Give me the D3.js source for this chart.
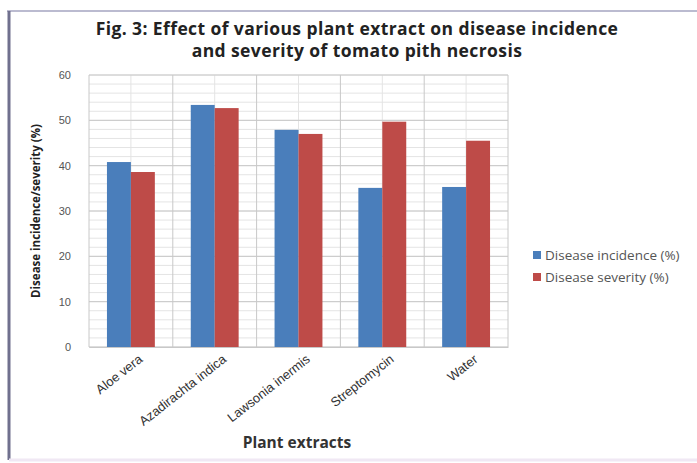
<!DOCTYPE html>
<html>
<head>
<meta charset="utf-8">
<script src="https://cdn.jsdelivr.net/npm/d3@7"></script>
<style>
  body { margin: 0; background: #fff; }
  svg { display: block; font-family: "Open Sans", "DejaVu Sans", sans-serif; }
</style>
</head>
<body>
<svg id="chart" width="697" height="463"></svg>
<script>
// chart data
const extracts = ["Aloe vera", "Azadirachta indica", "Lawsonia inermis", "Streptomycin", "Water"];
const incidence = [40.8, 53.4, 47.9, 35.1, 35.3];
const severity = [38.6, 52.7, 47.0, 49.7, 45.5];
const seriesNames = ["Disease incidence (%)", "Disease severity (%)"];
const yTicks = [0, 10, 20, 30, 40, 50, 60];
const titleLines = ["Fig. 3: Effect of various plant extract on disease incidence",
                    "and severity of tomato pith necrosis"];

let margin = {top: 75, left: 89, right: 189, bottom: 116},
    width = 697 - margin.left - margin.right,
    height = 463 - margin.top - margin.bottom;

let svg = d3.select("#chart");

// outer frame of the figure
svg.append("rect").attr("x", 0).attr("y", 0).attr("width", 697).attr("height", 463).attr("fill", "#fff");
svg.append("line").attr("x1", 7).attr("x2", 697).attr("y1", 11).attr("y2", 11)
    .attr("stroke", "#a4a4c0").attr("stroke-width", 1.5);
svg.append("line").attr("x1", 9).attr("x2", 9).attr("y1", 11).attr("y2", 460)
    .attr("stroke", "#70708e").attr("stroke-width", 3);
svg.append("line").attr("x1", 9).attr("x2", 697).attr("y1", 460).attr("y2", 460)
    .attr("stroke", "#f0e8f4").attr("stroke-width", 3);

let g = svg.append("g").attr("transform", "translate(" + margin.left + "," + margin.top + ")");

let yScale = d3.scaleLinear().domain([0, 60]).range([height, 0]);
let xScale = d3.scaleBand().domain(extracts).range([0, width]);
let xSub = d3.scaleBand().domain(seriesNames).range([0, xScale.bandwidth()]).paddingInner(0).paddingOuter(0.75);

// minor grid
g.append("g").selectAll("line")
    .data(d3.range(0, 61, 2))
    .join("line")
    .attr("x1", 0).attr("x2", width)
    .attr("y1", d => yScale(d)).attr("y2", d => yScale(d))
    .attr("stroke", "#e4e4e4").attr("stroke-width", 1);
g.append("g").selectAll("line")
    .data(extracts)
    .join("line")
    .attr("x1", d => xScale(d) + xScale.bandwidth() / 2).attr("x2", d => xScale(d) + xScale.bandwidth() / 2)
    .attr("y1", 0).attr("y2", height)
    .attr("stroke", "#e4e4e4");

// major grid
g.append("g").selectAll("line")
    .data(yTicks)
    .join("line")
    .attr("x1", 0).attr("x2", width)
    .attr("y1", d => yScale(d)).attr("y2", d => yScale(d))
    .attr("stroke", "#c8c8c8");
g.append("g").selectAll("line")
    .data(extracts.concat(["end"]))
    .join("line")
    .attr("x1", (d, i) => i * xScale.step()).attr("x2", (d, i) => i * xScale.step())
    .attr("y1", 0).attr("y2", height)
    .attr("stroke", "#c8c8c8");

// bars
let colors = ["#4a7ebb", "#be4b48"];
let groups = g.append("g").selectAll("g")
    .data(extracts)
    .join("g")
    .attr("transform", d => "translate(" + xScale(d) + ",0)");
groups.selectAll("rect")
    .data((d, i) => [incidence[i], severity[i]].map((v, k) => ({s: seriesNames[k], v: v, k: k})))
    .join("rect")
    .attr("x", d => xSub(d.s))
    .attr("width", xSub.bandwidth())
    .attr("y", d => yScale(d.v))
    .attr("height", d => height - yScale(d.v))
    .attr("fill", d => colors[d.k]);

// y axis
let yAxis = g.append("g").call(d3.axisLeft(yScale).tickValues(yTicks).tickSize(0).tickPadding(18));
yAxis.select(".domain").remove();
yAxis.selectAll("text").attr("font-size", 11).attr("fill", "#555");

// x axis
let xAxis = g.append("g").attr("transform", "translate(0," + height + ")")
    .call(d3.axisBottom(xScale).tickSize(0).tickSizeOuter(0));
xAxis.select(".domain").attr("stroke", "#c8c8c8");
xAxis.selectAll("text")
    .attr("font-size", 13)
    .attr("fill", "#333")
    .style("text-anchor", "end")
    .attr("dx", "0.1em")
    .attr("dy", "1.2em")
    .attr("transform", "rotate(-38)");

// axis titles
svg.append("text")
    .attr("transform", "translate(40," + (margin.top + height / 2) + ") rotate(-90)")
    .attr("text-anchor", "middle")
    .attr("font-size", 11.5).attr("font-weight", "bold").attr("fill", "#222")
    .text("Disease incidence/severity (%)");
svg.append("text")
    .attr("x", 297).attr("y", 448)
    .attr("text-anchor", "middle")
    .attr("font-size", 15.5).attr("font-weight", "bold").attr("fill", "#333")
    .text("Plant extracts");

// title, one text per line
svg.append("g").selectAll("text")
    .data(titleLines)
    .join("text")
    .attr("x", 357)
    .attr("y", (d, i) => 35 + i * 22)
    .attr("text-anchor", "middle")
    .attr("font-size", 17.5)
    .attr("letter-spacing", 0.4)
    .attr("font-weight", "bold")
    .attr("fill", "#222")
    .text(d => d);

// legend
let legend = svg.append("g").attr("transform", "translate(533,255)");
let items = legend.selectAll("g").data(seriesNames).join("g")
    .attr("transform", (d, i) => "translate(0," + i * 22 + ")");
items.append("rect").attr("x", 0).attr("y", -4).attr("width", 8).attr("height", 8)
    .attr("fill", (d, i) => colors[i]);
items.append("text").attr("x", 12).attr("y", 0).attr("dy", "0.35em")
    .attr("font-size", 13.5).attr("fill", "#555").text(d => d);
</script>
</body>
</html>
